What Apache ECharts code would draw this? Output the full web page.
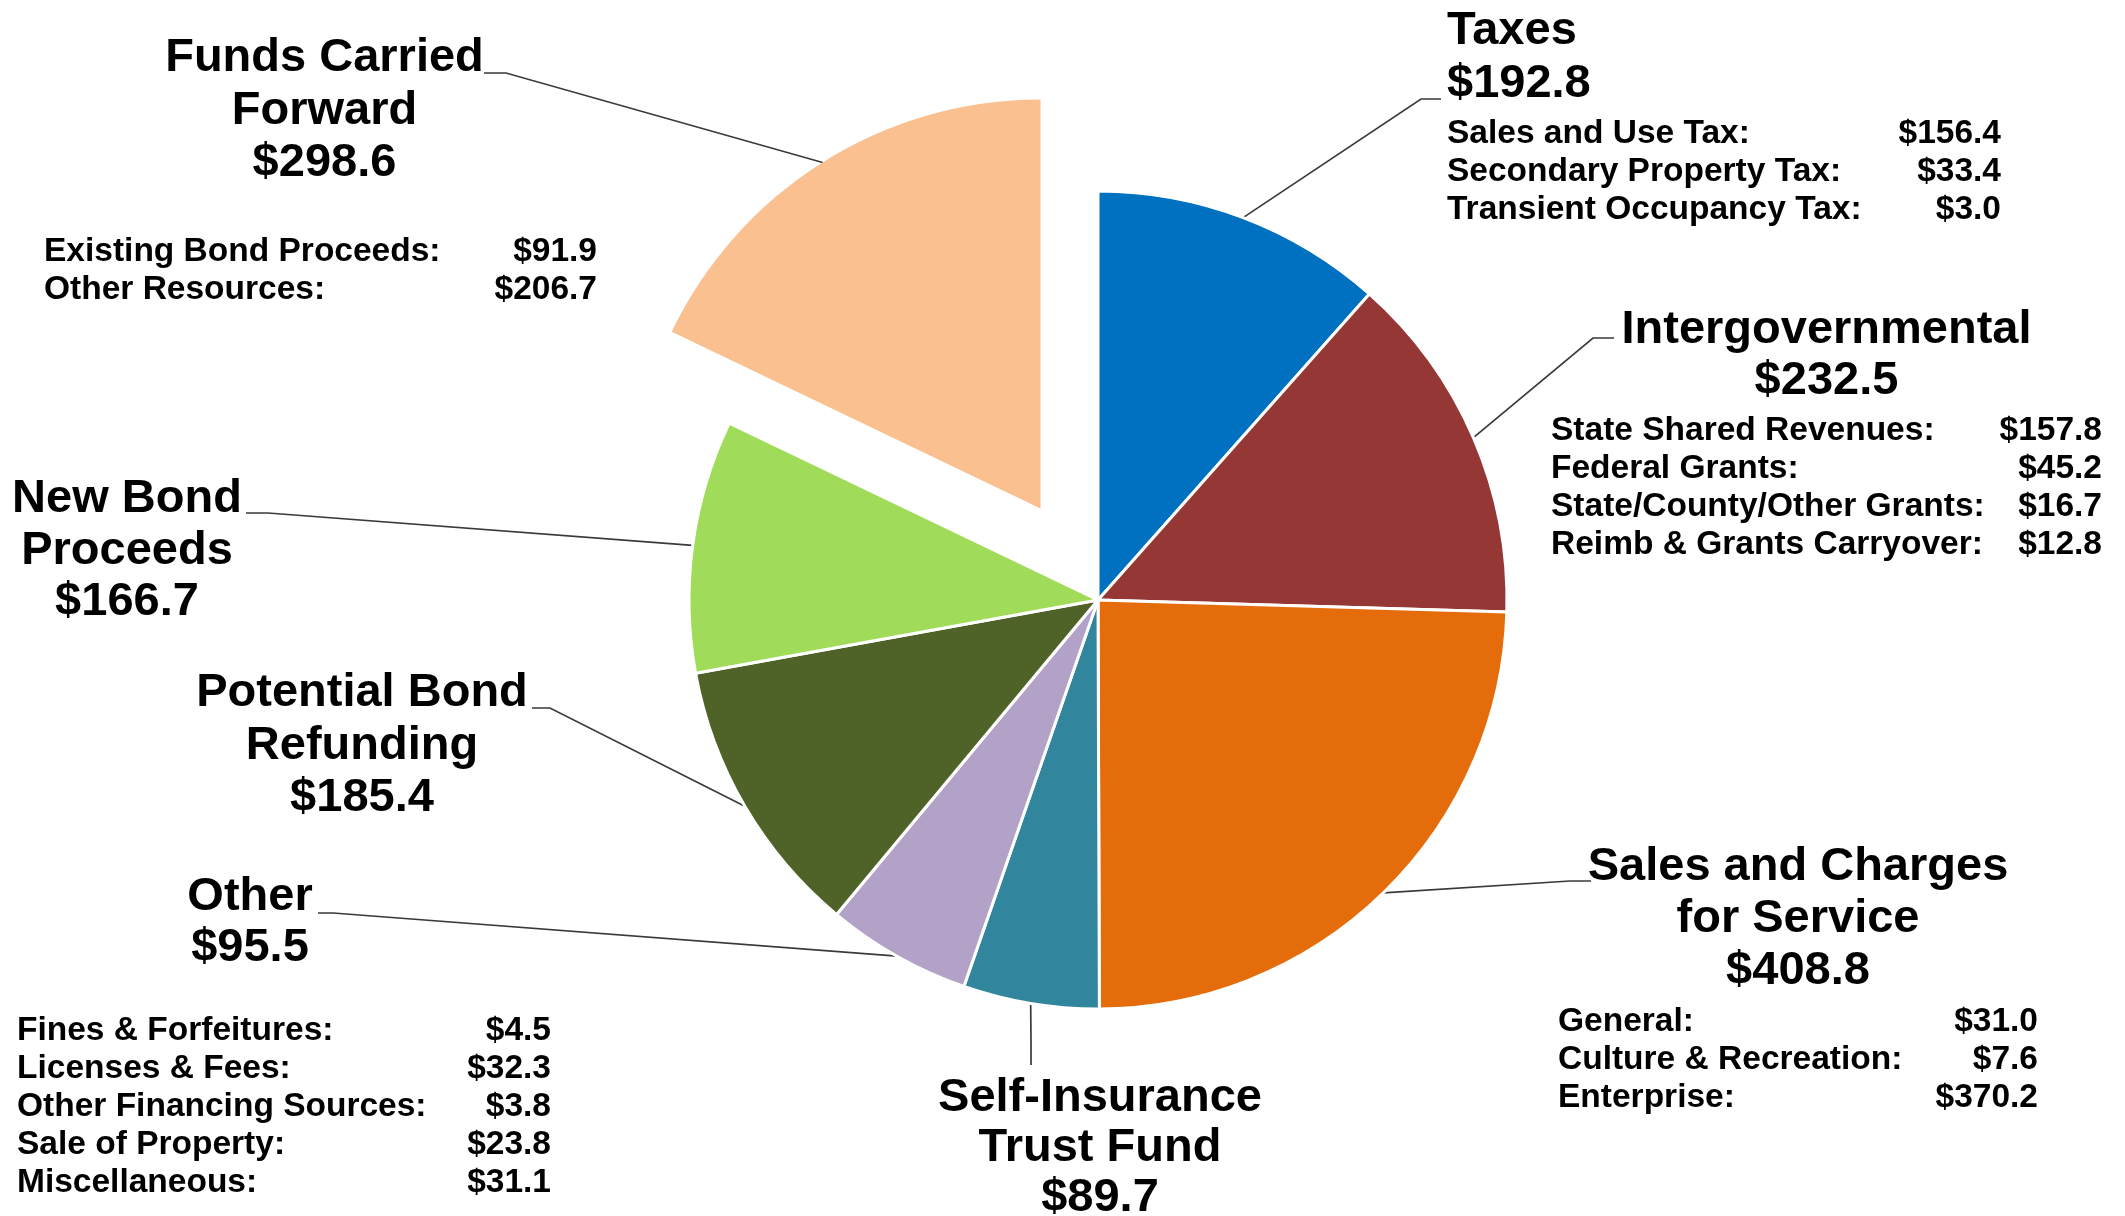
<!DOCTYPE html>
<html>
<head>
<meta charset="utf-8">
<title>Sources of Funds</title>
<script src="https://cdn.jsdelivr.net/npm/echarts@6/dist/echarts.min.js"></script>
<style>
  html, body { margin: 0; padding: 0; background: #fff; }
  #chart { width: 2125px; height: 1216px; }
</style>
</head>
<body>
<div id="chart"></div>
<script>
// 各收入来源 ($ millions), clockwise from 12 o'clock
const categories = ['Taxes', 'Intergovernmental', 'Sales and Charges for Service', 'Self-Insurance Trust Fund',
  'Other', 'Potential Bond Refunding', 'New Bond Proceeds', 'Funds Carried Forward'];
const titleLines = [['Taxes'], ['Intergovernmental'], ['Sales and Charges', 'for Service'], ['Self-Insurance', 'Trust Fund'],
  ['Other'], ['Potential Bond', 'Refunding'], ['New Bond', 'Proceeds'], ['Funds Carried', 'Forward']];
const values = [192.8, 232.5, 408.8, 89.7, 95.5, 185.4, 166.7, 298.6];
const colors = ['#0070C0', '#953735', '#E46C0A', '#31859C', '#B3A2C7', '#4F6228', '#A0DC5A', '#FAC090'];

// breakdown tables
const taxesDetail = [['Sales and Use Tax:', 156.4], ['Secondary Property Tax:', 33.4], ['Transient Occupancy Tax:', 3.0]];
const intergovDetail = [['State Shared Revenues:', 157.8], ['Federal Grants:', 45.2],
  ['State/County/Other Grants:', 16.7], ['Reimb & Grants Carryover:', 12.8]];
const salesDetail = [['General:', 31.0], ['Culture & Recreation:', 7.6], ['Enterprise:', 370.2]];
const otherDetail = [['Fines & Forfeitures:', 4.5], ['Licenses & Fees:', 32.3], ['Other Financing Sources:', 3.8],
  ['Sale of Property:', 23.8], ['Miscellaneous:', 31.1]];
const fundsDetail = [['Existing Bond Proceeds:', 91.9], ['Other Resources:', 206.7]];
const details = [taxesDetail, intergovDetail, salesDetail, [], otherDetail, [], [], fundsDetail];

// 标签位置 (layout only): box top-left, width, title line height, gap before table, leader end + elbow
const labelBox = [
  { x: 1447, y: 5, w: 554, lh: 53, gap: 4, align: 'left', end: [1441, 99], elbow: [1421, 99] },
  { x: 1551, y: 305, w: 551, lh: 51, gap: 5, end: [1614, 338], elbow: [1593, 338] },
  { x: 1558, y: 841, w: 480, lh: 52, gap: 6, end: [1591, 881], elbow: [1570, 881] },
  { x: 930, y: 1073, w: 340, lh: 50, gap: 0, end: [1031, 1065], elbow: [1031, 1040] },
  { x: 17, y: 872, w: 534, lh: 51, gap: 38, shift: -34, end: [318, 913], elbow: [333, 913] },
  { x: 192, y: 667, w: 340, lh: 52.5, gap: 0, end: [532, 708], elbow: [550, 708] },
  { x: 7, y: 473, w: 240, lh: 51.7, gap: 0, end: [246, 513], elbow: [268, 513] },
  { x: 44, y: 32, w: 553, lh: 52.5, gap: 43, shift: 4, end: [484, 73], elbow: [506, 73] }
];

const center = [1098, 600];
const radius = 409;
const explodeIndex = 7;
const explodeOffset = 108;
const font = 'Liberation Sans, Arial, sans-serif';

const money = v => '$' + v.toFixed(1);

function labelText(i) {
  let lines = titleLines[i].concat([money(values[i])]).map(s => '{t|' + s + '}');
  if (details[i].length) {
    lines.push('{sp| }');
    details[i].forEach(d => lines.push('{k|' + d[0] + '}{v|' + money(d[1]) + '}'));
  }
  return lines.join('\n');
}

function labelOpt(i) {
  const b = labelBox[i];
  const shift = b.shift || 0;
  return {
    show: true,
    width: b.w,
    overflow: 'none',
    formatter: () => labelText(i),
    rich: {
      t: {
        fontSize: 47, fontWeight: 'bold', fontFamily: font, color: '#000', lineHeight: b.lh,
        align: b.align || 'center',
        padding: shift < 0 ? [0, -2 * shift, 0, 0] : [0, 0, 0, 2 * shift]
      },
      sp: { fontSize: 2, lineHeight: b.gap || 1 },
      k: { fontSize: 33.5, fontWeight: 'bold', fontFamily: font, color: '#000', lineHeight: 38, align: 'left' },
      v: { fontSize: 33.5, fontWeight: 'bold', fontFamily: font, color: '#000', lineHeight: 38, align: 'right' }
    }
  };
}

const hidden = { show: false };

// main pie: the exploded slice is left empty here
const mainData = values.map((v, i) => ({
  name: categories[i],
  value: v,
  itemStyle: i === explodeIndex ? { color: 'transparent', borderWidth: 0 } : { color: colors[i] },
  label: i === explodeIndex ? hidden : labelOpt(i),
  labelLine: i === explodeIndex ? hidden : { show: true }
}));

// second pie only shows the exploded slice, pulled out along its mid angle
const total = values.reduce((s, v) => s + v, 0);
const before = values.slice(0, explodeIndex).reduce((s, v) => s + v, 0);
const midAngle = (before + values[explodeIndex] / 2) / total * 2 * Math.PI;
const explodeCenter = [center[0] + explodeOffset * Math.sin(midAngle), center[1] - explodeOffset * Math.cos(midAngle)];

const explodeData = values.map((v, i) => ({
  name: categories[i],
  value: v,
  itemStyle: i === explodeIndex ? { color: colors[i] } : { color: 'transparent' },
  label: i === explodeIndex ? labelOpt(i) : hidden,
  labelLine: i === explodeIndex ? { show: true } : hidden
}));

function layoutLabel(params) {
  const b = labelBox[params.dataIndex];
  const pts = params.labelLinePoints;
  const anchor = pts && pts.length ? pts[0] : b.elbow;
  return {
    x: b.x,
    y: b.y,
    align: 'left',
    verticalAlign: 'top',
    labelLinePoints: [anchor, b.elbow, b.end]
  };
}

const commonSeries = {
  type: 'pie',
  radius: radius,
  startAngle: 90,
  clockwise: true,
  avoidLabelOverlap: false,
  silent: true,
  animation: false,
  emphasis: { disabled: true },
  label: { position: 'outside' },
  labelLine: { show: true, length: 20, length2: 20, lineStyle: { color: '#3a3a3a', width: 1.7 } },
  labelLayout: layoutLabel
};

const chart = echarts.init(document.getElementById('chart'));
chart.setOption({
  backgroundColor: '#fff',
  series: [
    Object.assign({}, commonSeries, {
      center: center,
      itemStyle: { borderColor: '#fff', borderWidth: 3 },
      data: mainData
    }),
    Object.assign({}, commonSeries, {
      center: explodeCenter,
      itemStyle: { borderWidth: 0 },
      data: explodeData
    })
  ]
});

window.onresize = () => {
  chart.resize();
};
</script>
</body>
</html>
